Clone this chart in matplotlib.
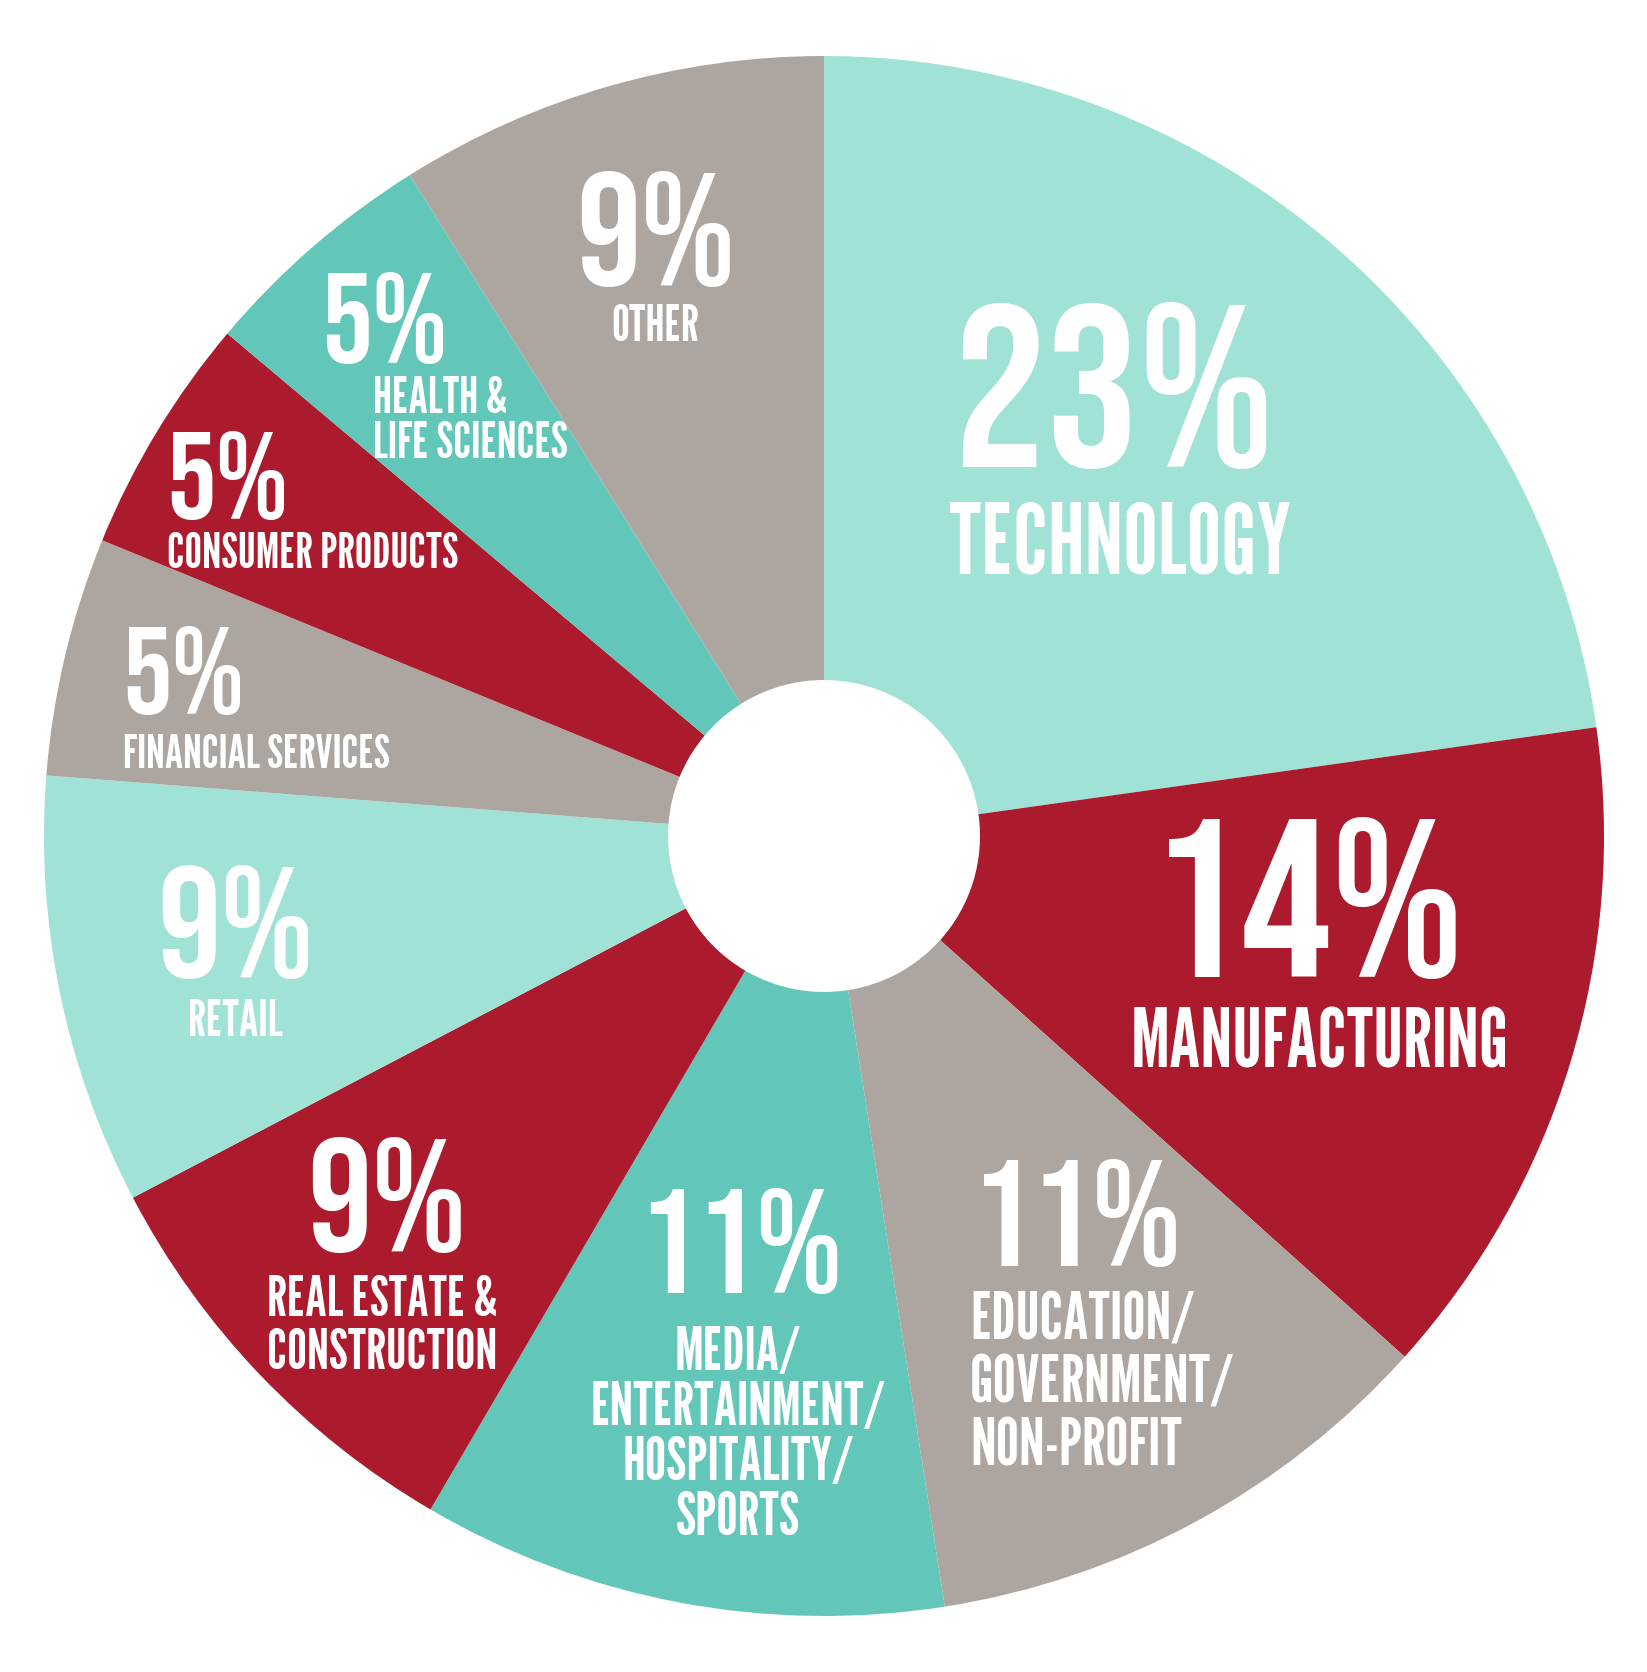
import matplotlib
matplotlib.use("Agg")
import matplotlib.pyplot as plt

# Industry breakdown, clockwise from 12 o'clock
categories = [
    "TECHNOLOGY",
    "MANUFACTURING",
    "EDUCATION/\nGOVERNMENT/\nNON-PROFIT",
    "MEDIA/\nENTERTAINMENT/\nHOSPITALITY/\nSPORTS",
    "REAL ESTATE &\nCONSTRUCTION",
    "RETAIL",
    "FINANCIAL SERVICES",
    "CONSUMER PRODUCTS",
    "HEALTH &\nLIFE SCIENCES",
    "OTHER",
]
shares = [23, 14, 11, 11, 9, 9, 5, 5, 5, 9]

LIGHT_TEAL = "#A0E2D6"
TEAL = "#62C6B9"
GRAY = "#ADA6A0"
RED = "#AB1A2D"
slice_colors = [LIGHT_TEAL, RED, GRAY, TEAL, RED, LIGHT_TEAL, GRAY, RED, TEAL, GRAY]

# label layout in pixels from the top-left corner:
# (number x, number baseline, number size,
#  label x, baseline of last label line, label size, label align, line spacing)
layout = [
    (1114, 467, 166, 1120, 573, 70, "center", 1.0),
    (1307, 977, 162, 1320, 1068, 58, "center", 1.0),
    (1077, 1266, 109, 970, 1466, 47, "left", 1.07),
    (740, 1293, 106, 738, 1535, 43, "center", 1.0),
    (387, 1251, 116, 382, 1369, 40, "center", 1.04),
    (236, 977, 114, 235, 1036, 36, "center", 1.0),
    (183, 714, 89, 123, 768, 34, "left", 1.0),
    (227, 519, 89, 167, 568, 35, "left", 1.0),
    (384, 363, 92, 373, 458, 36, "left", 0.96),
    (656, 285, 116, 655, 341, 36, "center", 1.0),
]

W, H = 1647, 1672
CX, CY, R = 824, 836, 780

num_font = ["Bebas Neue", "League Gothic", "DejaVu Sans"]
lab_font = ["League Gothic", "Pathway Gothic One", "DejaVu Sans"]

fig = plt.figure(figsize=(W / 100, H / 100), dpi=100)
ax = fig.add_axes([0, 0, 1, 1])

ax.pie(shares, colors=slice_colors, startangle=90, counterclock=False,
       radius=1.0, wedgeprops=dict(width=0.8, edgecolor="none", linewidth=0))

# scale so that the pie sits where it does in the original
ax.set_xlim(-CX / R, (W - CX) / R)
ax.set_ylim(-(H - CY) / R, CY / R)
ax.set_aspect("equal")
ax.axis("off")


def to_fig(px, py):
    return px / W, 1 - py / H


for share, name, (nx, ny, ns, lx, ly, ls, ha, sp) in zip(shares, categories, layout):
    fx, fy = to_fig(nx, ny)
    fig.text(fx, fy, f"{share}%", color="white", fontsize=ns, family=num_font,
             ha="center", va="baseline")
    fx, fy = to_fig(lx, ly)
    fig.text(fx, fy, name, color="white", fontsize=ls, family=lab_font,
             ha=ha, va="baseline", multialignment=ha, linespacing=sp)

fig.savefig("out.png", dpi=100, facecolor="white")
